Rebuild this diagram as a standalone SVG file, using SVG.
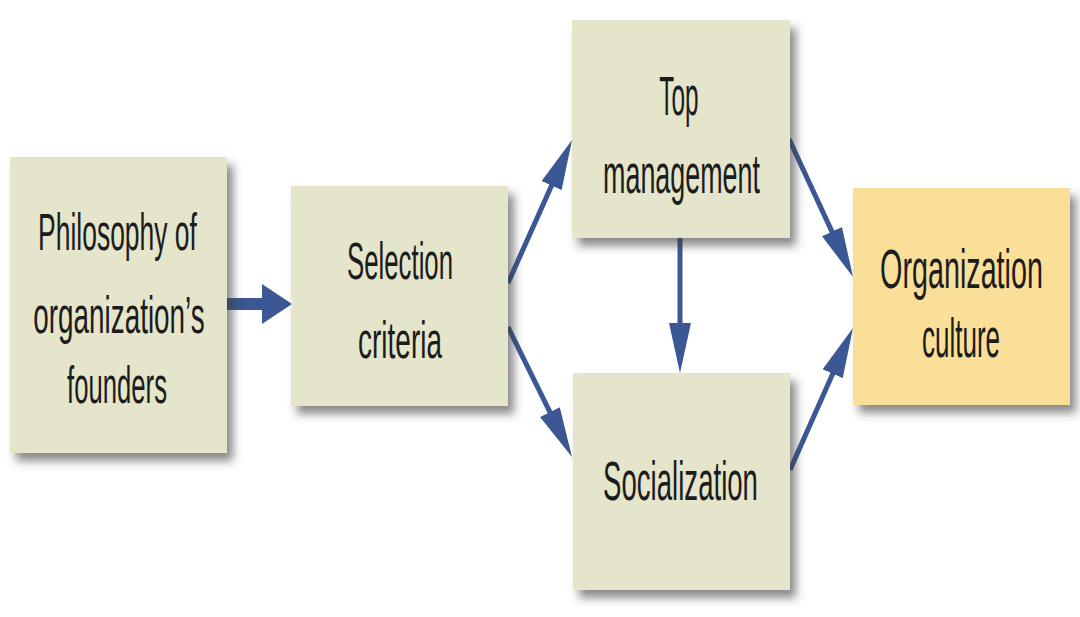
<svg xmlns="http://www.w3.org/2000/svg" width="1080" height="617" viewBox="0 0 1080 617">
  <style>
    .box { fill: #e4e5ca; filter: url(#shadow); }
    .box.out { fill: #fadf98; }
    .lbl { font-family: "Liberation Sans", "DejaVu Sans", sans-serif; font-size: 52px; fill: #1c1c1c; text-anchor: middle; }
    .big { font-size: 56px; }
    .conn { stroke: #3b5794; stroke-width: 5; fill: none; marker-end: url(#head); }
    .thick { stroke-width: 12; marker-end: url(#bighead); }
  </style>
  <defs>
    <filter id="shadow" x="-10%" y="-10%" width="130%" height="130%">
      <feDropShadow dx="6" dy="8" stdDeviation="5" flood-color="#3a3a3a" flood-opacity="0.6"/>
    </filter>
    <marker id="head" viewBox="0 0 50 22" refX="2" refY="11" markerWidth="50" markerHeight="22" markerUnits="userSpaceOnUse" orient="auto">
      <path d="M0,0 L50,11 L0,22 z" fill="#3b5794"/>
    </marker>
    <marker id="bighead" viewBox="0 0 30 40" refX="2" refY="20" markerWidth="30" markerHeight="40" markerUnits="userSpaceOnUse" orient="auto">
      <path d="M0,0 L30,20 L0,40 z" fill="#3b5794"/>
    </marker>
  </defs>
  <rect width="1080" height="617" fill="#ffffff"/>

  <g id="connectors">
    <line class="conn thick" x1="226" y1="304" x2="264" y2="304"/>
    <line class="conn" x1="508" y1="283" x2="552.4" y2="183.8"/>
    <line class="conn" x1="508" y1="327" x2="550.8" y2="413.9"/>
    <line class="conn" x1="680" y1="238" x2="680" y2="325"/>
    <line class="conn" x1="789" y1="139" x2="832.8" y2="233.4"/>
    <line class="conn" x1="790" y1="470" x2="833.5" y2="371.9"/>
  </g>

  <g id="philosophy">
    <rect class="box" x="10" y="157" width="217" height="296"/>
    <text class="lbl" transform="translate(117.5 250) scale(0.509 1)">Philosophy of</text>
    <text class="lbl" transform="translate(119 333) scale(0.536 1)">organization’s</text>
    <text class="lbl" transform="translate(117 403) scale(0.494 1)">founders</text>
  </g>

  <g id="selection">
    <rect class="box" x="291" y="186" width="217" height="220"/>
    <text class="lbl" transform="translate(400 279) scale(0.496 1)">Selection</text>
    <text class="lbl" transform="translate(400 358) scale(0.538 1)">criteria</text>
  </g>

  <g id="top-management">
    <rect class="box" x="572" y="20" width="218" height="218"/>
    <text class="lbl big" transform="translate(679 115) scale(0.435 1)">Top</text>
    <text class="lbl big" transform="translate(681.5 193) scale(0.48 1)">management</text>
  </g>

  <g id="socialization">
    <rect class="box" x="573" y="373" width="217" height="217"/>
    <text class="lbl big" transform="translate(680.5 500) scale(0.493 1)">Socialization</text>
  </g>

  <g id="organization-culture">
    <rect class="box out" x="853" y="188" width="217" height="217"/>
    <text class="lbl big" transform="translate(961.5 288) scale(0.513 1)">Organization</text>
    <text class="lbl big" transform="translate(961 357) scale(0.464 1)">culture</text>
  </g>
</svg>
